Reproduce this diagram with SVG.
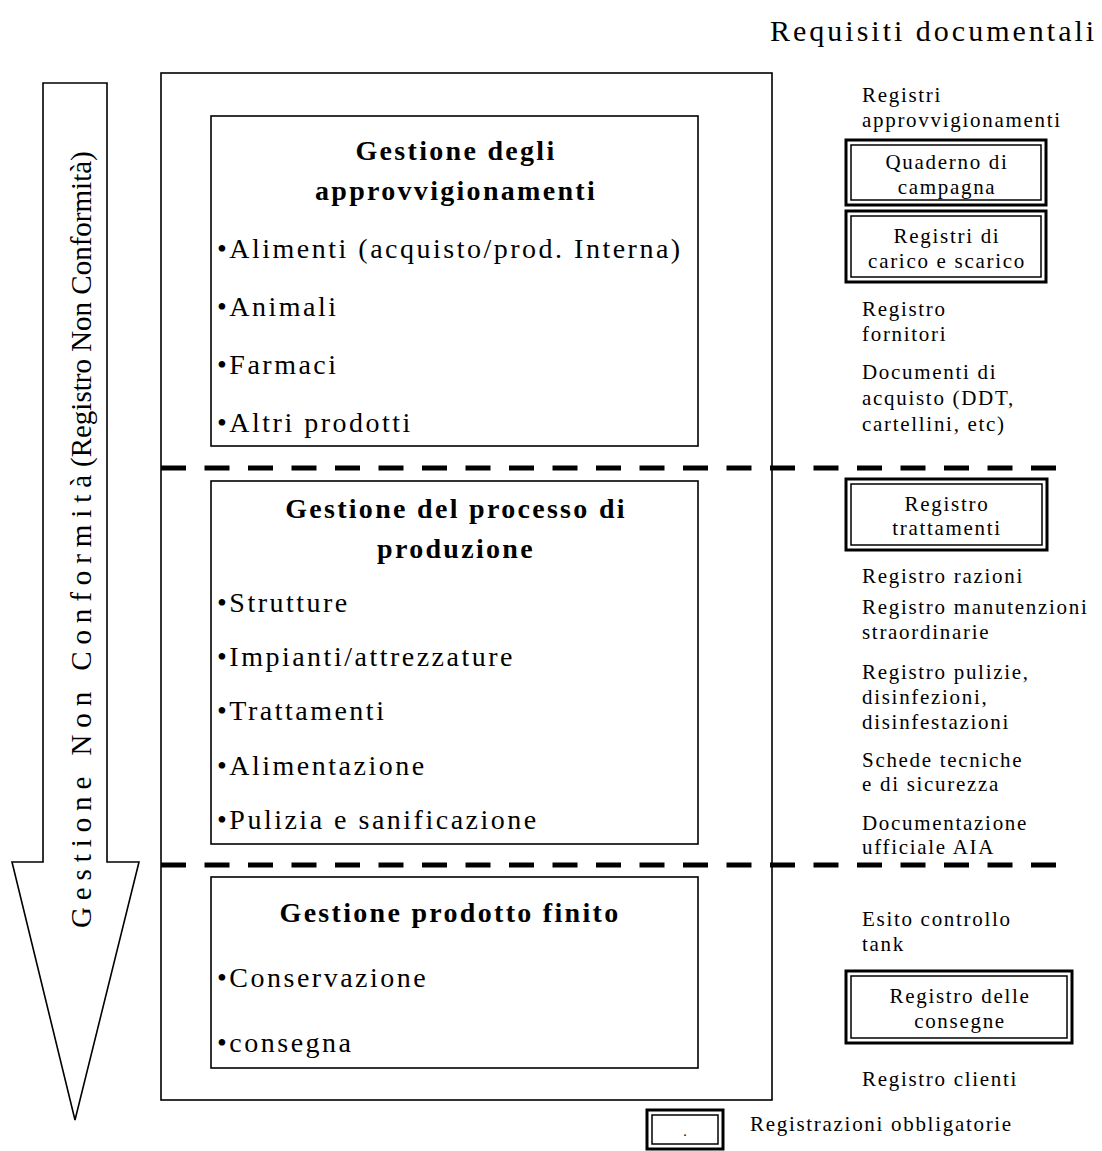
<svg xmlns="http://www.w3.org/2000/svg" width="1102" height="1151" viewBox="0 0 1102 1151">
<style>
text{font-family:"Liberation Serif","Times New Roman",serif;fill:#000}
.t{font-size:28px;font-weight:bold;letter-spacing:2.3px;text-anchor:middle}
.b{font-size:28px;letter-spacing:2.5px}
.r{font-size:21px;letter-spacing:1.7px}
.rc{font-size:21px;letter-spacing:1.7px;text-anchor:middle}
.box{fill:#fff;stroke:#000;stroke-width:1.6}
.dbo{fill:#fff;stroke:#000;stroke-width:3}
.dbi{fill:none;stroke:#000;stroke-width:1.5}
.dash{stroke:#000;stroke-width:5;stroke-dasharray:25 18.5;fill:none}
</style>
<rect width="1102" height="1151" fill="#fff"/>

<g id="title">
<text x="770" y="41" style="font-size:30px;letter-spacing:3px">Requisiti documentali</text>
</g>

<g id="arrow">
<polygon points="43,83 107,83 107,862 139,862 75,1120 12,862 43,862" fill="#fff" stroke="#000" stroke-width="1.6"/>
<g transform="translate(91,928) rotate(-90)">
<text x="0" y="0" style="font-size:29px;letter-spacing:6.9px">Gestione Non Conformità</text>
<text x="461" y="0" style="font-size:29px">(Registro Non Conformità)</text>
</g>
</g>

<g id="main-frame">
<rect class="box" x="161" y="73" width="611" height="1027"/>
</g>

<g id="connectors">
<line class="dash" x1="161" y1="468" x2="1060" y2="468"/>
<line class="dash" x1="161" y1="865" x2="1060" y2="865"/>
</g>

<g id="approvvigionamenti">
<rect class="box" x="211" y="116" width="487" height="330"/>
<text class="t" x="456" y="160">Gestione degli</text>
<text class="t" x="456" y="200">approvvigionamenti</text>
<text class="b" x="217" y="258">•Alimenti (acquisto/prod. Interna)</text>
<text class="b" x="217" y="316">•Animali</text>
<text class="b" x="217" y="374">•Farmaci</text>
<text class="b" x="217" y="432">•Altri prodotti</text>
</g>

<g id="processo">
<rect class="box" x="211" y="481" width="487" height="363"/>
<text class="t" x="456" y="518">Gestione del processo di</text>
<text class="t" x="456" y="558">produzione</text>
<text class="b" x="217" y="612">•Strutture</text>
<text class="b" x="217" y="666">•Impianti/attrezzature</text>
<text class="b" x="217" y="720">•Trattamenti</text>
<text class="b" x="217" y="775">•Alimentazione</text>
<text class="b" x="217" y="829">•Pulizia e sanificazione</text>
</g>

<g id="prodotto-finito">
<rect class="box" x="211" y="877" width="487" height="191"/>
<text class="t" x="450" y="922">Gestione prodotto finito</text>
<text class="b" x="217" y="987">•Conservazione</text>
<text class="b" x="217" y="1052">•consegna</text>
</g>

<g id="req-approvvigionamenti">
<text class="r" x="862" y="102">Registri</text>
<text class="r" x="862" y="127">approvvigionamenti</text>
</g>
<g id="req-quaderno">
<rect class="dbo" x="846" y="140" width="200" height="65"/>
<rect class="dbi" x="851" y="145" width="190" height="55"/>
<text class="rc" x="947" y="169">Quaderno di</text>
<text class="rc" x="947" y="194">campagna</text>
</g>
<g id="req-carico">
<rect class="dbo" x="846" y="211" width="200" height="71"/>
<rect class="dbi" x="851" y="216" width="190" height="61"/>
<text class="rc" x="947" y="243">Registri di</text>
<text class="rc" x="947" y="268">carico e scarico</text>
</g>
<g id="req-fornitori">
<text class="r" x="862" y="316">Registro</text>
<text class="r" x="862" y="341">fornitori</text>
</g>
<g id="req-acquisto">
<text class="r" x="862" y="379">Documenti di</text>
<text class="r" x="862" y="405">acquisto (DDT,</text>
<text class="r" x="862" y="431">cartellini, etc)</text>
</g>
<g id="req-trattamenti">
<rect class="dbo" x="846" y="479" width="201" height="71"/>
<rect class="dbi" x="851" y="484" width="191" height="61"/>
<text class="rc" x="947" y="511">Registro</text>
<text class="rc" x="947" y="535">trattamenti</text>
</g>
<g id="req-razioni">
<text class="r" x="862" y="583">Registro razioni</text>
</g>
<g id="req-manutenzioni">
<text class="r" x="862" y="614">Registro manutenzioni</text>
<text class="r" x="862" y="639">straordinarie</text>
</g>
<g id="req-pulizie">
<text class="r" x="862" y="679">Registro pulizie,</text>
<text class="r" x="862" y="704">disinfezioni,</text>
<text class="r" x="862" y="729">disinfestazioni</text>
</g>
<g id="req-schede">
<text class="r" x="862" y="767">Schede tecniche</text>
<text class="r" x="862" y="791">e di sicurezza</text>
</g>
<g id="req-aia">
<text class="r" x="862" y="830">Documentazione</text>
<text class="r" x="862" y="854">ufficiale AIA</text>
</g>
<g id="req-tank">
<text class="r" x="862" y="926">Esito controllo</text>
<text class="r" x="862" y="951">tank</text>
</g>
<g id="req-consegne">
<rect class="dbo" x="846" y="971" width="226" height="72"/>
<rect class="dbi" x="851" y="976" width="216" height="62"/>
<text class="rc" x="960" y="1003">Registro delle</text>
<text class="rc" x="960" y="1028">consegne</text>
</g>
<g id="req-clienti">
<text class="r" x="862" y="1086">Registro clienti</text>
</g>

<g id="legend">
<rect class="dbo" x="647" y="1110" width="76" height="39"/>
<rect class="dbi" x="652" y="1115" width="66" height="29"/>
<text x="685" y="1136" style="font-size:14px;text-anchor:middle">.</text>
<text class="r" x="750" y="1131">Registrazioni obbligatorie</text>
</g>
</svg>
